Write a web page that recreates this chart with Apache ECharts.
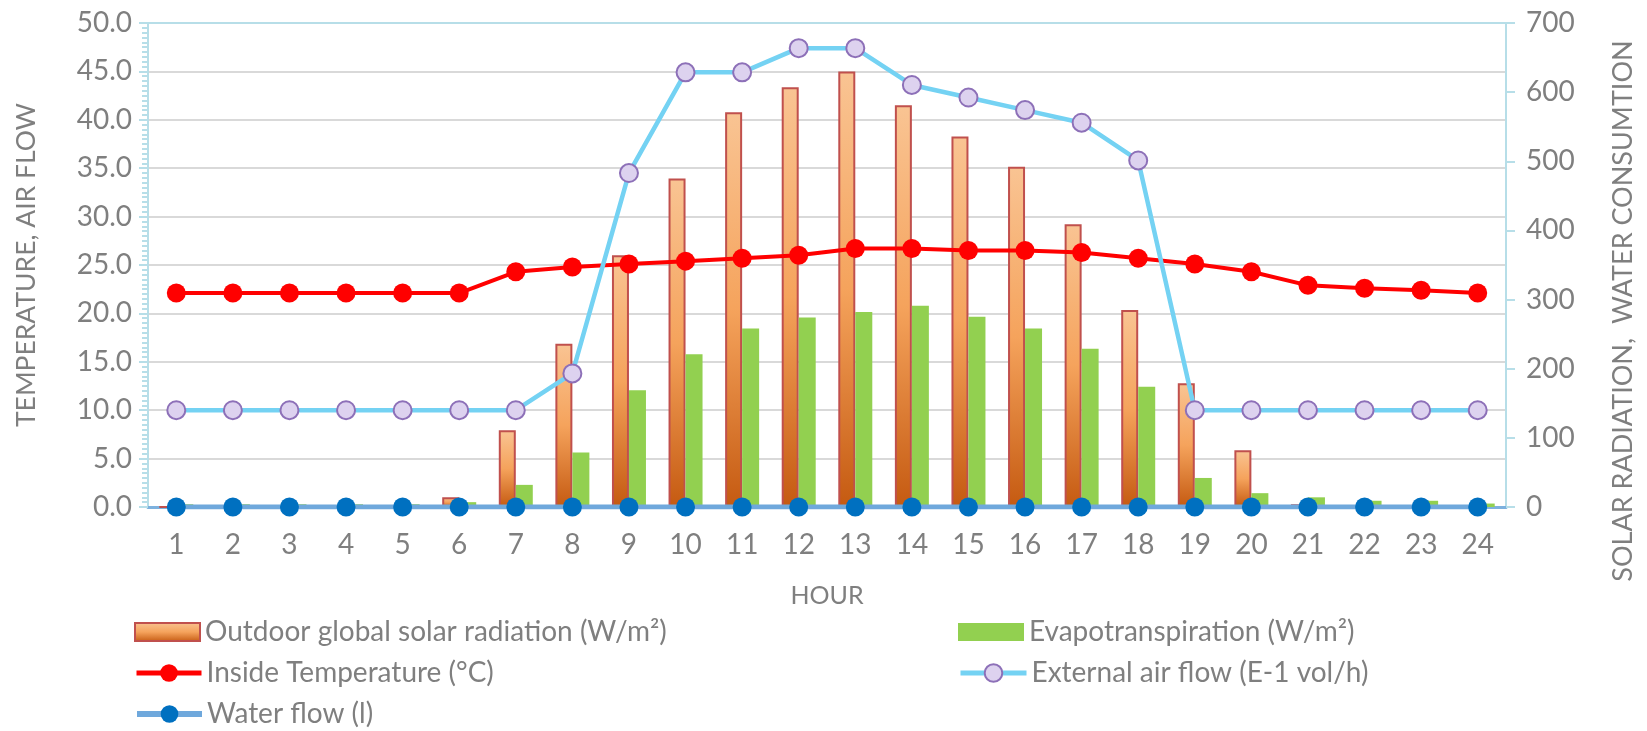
<!DOCTYPE html>
<html>
<head>
<meta charset="utf-8">
<script src="https://cdn.jsdelivr.net/npm/echarts@6/dist/echarts.min.js"></script>
<style>
  html, body { margin: 0; padding: 0; background: #ffffff; }
  #chart { width: 1647px; height: 731px; }
</style>
</head>
<body>
<div id="chart"></div>
<script>
// Hourly greenhouse climate data
const hours = ['1','2','3','4','5','6','7','8','9','10','11','12','13','14','15','16','17','18','19','20','21','22','23','24'];

// W/m², right axis
const solarRadiation = [0, 0, 0, 0, 0, 14, 111, 236, 364, 475, 571, 607, 630, 581, 536, 492, 409, 285, 179, 82, 4, 0, 0, 0];
const evapotranspiration = [4, 4, 4, 4, 4, 7, 32, 79, 169, 221, 258, 274, 282, 291, 275, 258, 229, 174, 42, 20, 14, 9, 9, 5];

// °C, left axis
const insideTemperature = [22.1, 22.1, 22.1, 22.1, 22.1, 22.1, 24.3, 24.8, 25.1, 25.4, 25.7, 26.0, 26.7, 26.7, 26.5, 26.5, 26.3, 25.7, 25.1, 24.3, 22.9, 22.6, 22.4, 22.1];

// E-1 vol/h, left axis
const externalAirFlow = [10, 10, 10, 10, 10, 10, 10, 13.8, 34.5, 44.9, 44.9, 47.4, 47.4, 43.6, 42.3, 41.0, 39.7, 35.8, 10, 10, 10, 10, 10, 10];

// litres, right axis
const waterFlow = [0, 0, 0, 0, 0, 0, 0, 0, 0, 0, 0, 0, 0, 0, 0, 0, 0, 0, 0, 0, 0, 0, 0, 0];

const names = {
  solar: 'Outdoor global solar radiation (W/m²)',
  evap: 'Evapotranspiration (W/m²)',
  temp: 'Inside Temperature (°C)',
  air: 'External air flow (E-1 vol/h)',
  water: 'Water flow (l)'
};

const FONT = 'Lato, "Open Sans", sans-serif';
const TEXT = '#7F7F7F';
const AXIS_BLUE = '#B7DEE8';
const GRID_GRAY = '#D9D9D9';

const chart = echarts.init(document.getElementById('chart'), null, { renderer: 'canvas' });

const solarGradient = new echarts.graphic.LinearGradient(0, 0, 0, 1, [
  { offset: 0, color: '#F9C493' },
  { offset: 0.5, color: '#F5A35C' },
  { offset: 1, color: '#C55A11' }
]);

// split line at the top of the left axis is drawn in the axis colour
const leftSplitColors = [];
for (let i = 0; i < 10; i++) leftSplitColors.push(GRID_GRAY);
leftSplitColors.push(AXIS_BLUE);

const legendText = { fontFamily: FONT, fontSize: 28, color: TEXT, lineHeight: 28 };

// one legend entry per block: two columns, three rows
function legendEntry(item, left, top, itemWidth, itemHeight) {
  return {
    left: left,
    top: top,
    padding: 0,
    orient: 'horizontal',
    itemWidth: itemWidth,
    itemHeight: itemHeight,
    textStyle: legendText,
    data: [item]
  };
}

const option = {
  backgroundColor: '#ffffff',
  animation: false,
  textStyle: { fontFamily: FONT },
  grid: {
    left: 148,
    right: 141,
    top: 23,
    bottom: 224,
    outerBoundsMode: 'none'
  },
  legend: [
    legendEntry({ name: names.solar, icon: 'rect' }, 134, 618, 65, 18),
    legendEntry({ name: names.temp, lineStyle: { width: 5 } }, 134, 659, 65, 22),
    legendEntry({ name: names.water, lineStyle: { width: 6 } }, 134, 700, 65, 22),
    legendEntry({ name: names.evap, icon: 'rect' }, 958, 618, 66, 18),
    legendEntry({ name: names.air, lineStyle: { width: 5 } }, 958, 659, 66, 22)
  ],
  xAxis: {
    type: 'category',
    data: hours,
    boundaryGap: true,
    name: 'HOUR',
    nameLocation: 'middle',
    nameGap: 76,
    nameMoveOverlap: false,
    nameTextStyle: { fontFamily: FONT, fontSize: 25, color: TEXT },
    axisLine: { show: true, lineStyle: { color: '#7DB1DE', width: 3 } },
    axisTick: { show: false },
    axisLabel: { fontFamily: FONT, fontSize: 28, color: TEXT, margin: 24 },
    splitLine: { show: false }
  },
  yAxis: [
    {
      type: 'value',
      position: 'left',
      min: 0,
      max: 50,
      interval: 5,
      name: 'TEMPERATURE, AIR FLOW',
      nameLocation: 'middle',
      nameGap: 108,
      nameRotate: 90,
      nameMoveOverlap: false,
      nameTextStyle: { fontFamily: FONT, fontSize: 26.5, color: TEXT },
      axisLine: { show: true, lineStyle: { color: AXIS_BLUE, width: 2 } },
      axisTick: { show: true, length: 9, lineStyle: { color: AXIS_BLUE, width: 2 } },
      minorTick: { show: true, splitNumber: 10, length: 6, lineStyle: { color: AXIS_BLUE, width: 2 } },
      axisLabel: {
        fontFamily: FONT, fontSize: 28, color: TEXT, margin: 16,
        formatter: v => v.toFixed(1)
      },
      splitLine: { show: true, lineStyle: { color: leftSplitColors, width: 2 } }
    },
    {
      type: 'value',
      position: 'right',
      min: 0,
      max: 700,
      interval: 100,
      name: 'SOLAR RADIATION,  WATER CONSUMTION',
      nameLocation: 'middle',
      nameGap: 104,
      nameRotate: 90,
      nameMoveOverlap: false,
      nameTextStyle: { fontFamily: FONT, fontSize: 27, color: TEXT, padding: [0, 92, 0, 0] },
      axisLine: { show: true, lineStyle: { color: AXIS_BLUE, width: 2 } },
      axisTick: { show: true, length: 9, lineStyle: { color: AXIS_BLUE, width: 2 } },
      axisLabel: { fontFamily: FONT, fontSize: 28, color: TEXT, margin: 20 },
      splitLine: { show: false }
    }
  ],
  series: [
    {
      name: names.solar,
      type: 'bar',
      yAxisIndex: 1,
      data: solarRadiation,
      barWidth: 17,
      barGap: '0%',
      itemStyle: { color: solarGradient, borderColor: '#C0504D', borderWidth: 2 }
    },
    {
      name: names.evap,
      type: 'bar',
      yAxisIndex: 1,
      data: evapotranspiration,
      barWidth: 17,
      barGap: '0%',
      itemStyle: { color: '#92D050' }
    },
    {
      name: names.temp,
      type: 'line',
      yAxisIndex: 0,
      data: insideTemperature,
      symbol: 'circle',
      symbolSize: 19,
      lineStyle: { color: '#FF0000', width: 4 },
      itemStyle: { color: '#FF0000' }
    },
    {
      name: names.air,
      type: 'line',
      yAxisIndex: 0,
      data: externalAirFlow,
      symbol: 'circle',
      symbolSize: 18,
      lineStyle: { color: '#74D2F3', width: 4.5 },
      itemStyle: { color: '#DDD2EF', borderColor: '#8D70B8', borderWidth: 2 }
    },
    {
      name: names.water,
      type: 'line',
      yAxisIndex: 1,
      data: waterFlow,
      symbol: 'circle',
      symbolSize: 19,
      lineStyle: { color: '#6FA8DC', width: 5 },
      itemStyle: { color: '#0070C0' }
    }
  ]
};

chart.setOption(option);
</script>
</body>
</html>
